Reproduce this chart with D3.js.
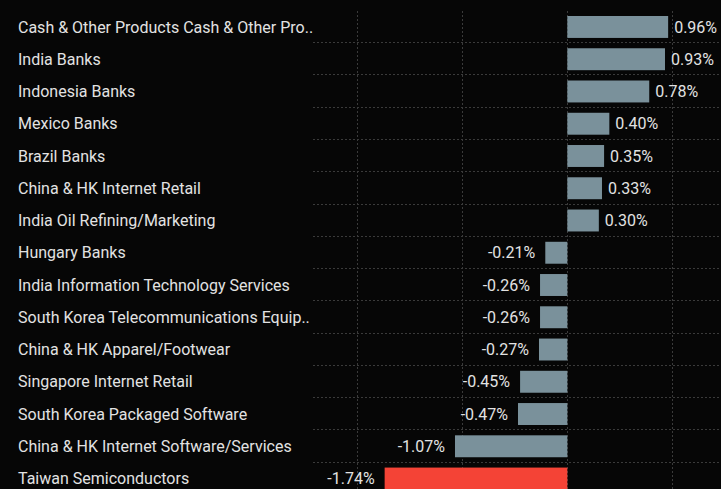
<!DOCTYPE html>
<html>
<head>
<meta charset="utf-8">
<script src="https://cdn.jsdelivr.net/npm/d3@7"></script>
<style>
  html, body { margin: 0; padding: 0; background: #060606; }
  svg { display: block; }
</style>
</head>
<body>
<div id="chart"></div>
<script>
// categories, top to bottom
var names = [
  "Cash & Other Products Cash & Other Pro..",
  "India Banks",
  "Indonesia Banks",
  "Mexico Banks",
  "Brazil Banks",
  "China & HK Internet Retail",
  "India Oil Refining/Marketing",
  "Hungary Banks",
  "India Information Technology Services",
  "South Korea Telecommunications Equip..",
  "China & HK Apparel/Footwear",
  "Singapore Internet Retail",
  "South Korea Packaged Software",
  "China & HK Internet Software/Services",
  "Taiwan Semiconductors"
];
// contribution, in percent
var values = [0.96, 0.93, 0.78, 0.40, 0.35, 0.33, 0.30, -0.21, -0.26, -0.26, -0.27, -0.45, -0.47, -1.07, -1.74];
var gridTicks = [-2, -1, 0, 1];

var width = 721, height = 489;

var svg = d3.select("#chart").append("svg")
  .attr("width", width)
  .attr("height", height);

var x = d3.scaleLinear()
  .domain([-2.4222, 1.4634])
  .range([313, 721]);

var y = d3.scaleBand()
  .domain(names)
  .range([16, 489.5])
  .paddingInner(0.32)
  .paddingOuter(0);

var rows = names.map(function(n, i) {
  return { name: n, value: values[i] };
});

var minVal = d3.min(values);

// grid
svg.append("g")
  .selectAll("line")
  .data(gridTicks)
  .enter().append("line")
  .attr("x1", function(d) { return Math.round(x(d)) + 0.5; })
  .attr("x2", function(d) { return Math.round(x(d)) + 0.5; })
  .attr("y1", 11)
  .attr("y2", height)
  .style("stroke", "#3a3a3a")
  .style("stroke-dasharray", "2,2");

svg.append("g")
  .selectAll("line")
  .data(names)
  .enter().append("line")
  .attr("x1", 313)
  .attr("x2", width)
  .attr("y1", function(d) { return Math.round(y(d) + y.bandwidth() + 4.3) + 0.5; })
  .attr("y2", function(d) { return Math.round(y(d) + y.bandwidth() + 4.3) + 0.5; })
  .style("stroke", "#3a3a3a")
  .style("stroke-dasharray", "2,2");

// bars
svg.append("g")
  .selectAll("rect")
  .data(rows)
  .enter().append("rect")
  .attr("x", function(d) { return x(Math.min(0, d.value)); })
  .attr("y", function(d) { return y(d.name); })
  .attr("width", function(d) { return Math.abs(x(d.value) - x(0)); })
  .attr("height", y.bandwidth())
  .style("fill", function(d) { return d.value === minVal ? "#f44336" : "#7a919b"; });

// category labels
svg.append("g")
  .selectAll("text")
  .data(rows)
  .enter().append("text")
  .attr("x", 18)
  .attr("y", function(d) { return y(d.name) + y.bandwidth() / 2; })
  .attr("dy", "0.35em")
  .style("font-family", "Roboto, sans-serif")
  .style("font-size", "16px")
  .style("fill", "#e2e2e2")
  .text(function(d) { return d.name; });

// value labels
svg.append("g")
  .selectAll("text")
  .data(rows)
  .enter().append("text")
  .attr("x", function(d) { return d.value >= 0 ? x(d.value) + 6 : x(d.value) - 10; })
  .attr("y", function(d) { return y(d.name) + y.bandwidth() / 2; })
  .attr("dy", "0.35em")
  .attr("text-anchor", function(d) { return d.value >= 0 ? "start" : "end"; })
  .style("font-family", "Roboto, sans-serif")
  .style("font-size", "16px")
  .style("fill", "#e2e2e2")
  .text(function(d) { return d.value.toFixed(2) + "%"; });
</script>
</body>
</html>
